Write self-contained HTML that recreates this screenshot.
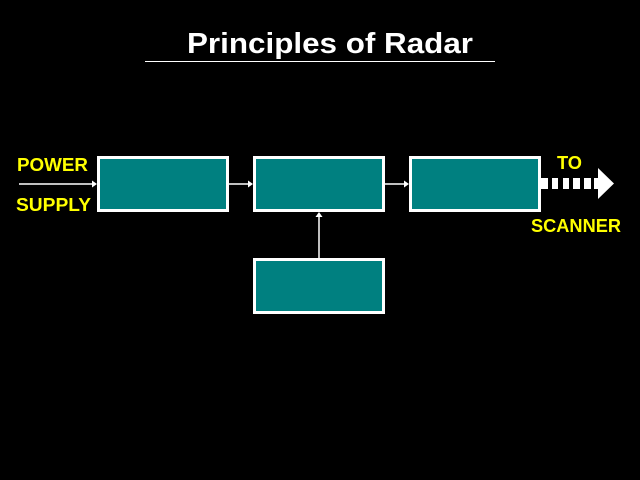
<!DOCTYPE html>
<html>
<head>
<meta charset="utf-8">
<style>
html,body{margin:0;padding:0;background:#000;}
svg{display:block;}
text{font-family:"Liberation Sans",Arial,sans-serif;font-weight:bold;}
</style>
</head>
<body>
<svg width="640" height="480" viewBox="0 0 640 480" xmlns="http://www.w3.org/2000/svg">
<rect x="0" y="0" width="640" height="480" fill="#000"/>
<text x="330" y="53" fill="#fff" font-size="29" text-anchor="middle" textLength="286" lengthAdjust="spacingAndGlyphs">Principles of Radar</text>
<line x1="145" y1="61.5" x2="495" y2="61.5" stroke="#fff" stroke-width="1"/>

<rect x="98.5" y="157.5" width="129" height="53" fill="#008080" stroke="#fff" stroke-width="3"/>
<rect x="254.5" y="157.5" width="129" height="53" fill="#008080" stroke="#fff" stroke-width="3"/>
<rect x="410.5" y="157.5" width="129" height="53" fill="#008080" stroke="#fff" stroke-width="3"/>
<rect x="254.5" y="259.5" width="129" height="53" fill="#008080" stroke="#fff" stroke-width="3"/>

<g stroke="#fff" stroke-width="1.5">
<line x1="19" y1="184" x2="94" y2="184"/>
<line x1="229" y1="184" x2="250" y2="184"/>
<line x1="385" y1="184" x2="406" y2="184"/>
<line x1="319" y1="258" x2="319" y2="215"/>
</g>
<g fill="#fff">
<polygon points="97,184 92,180.5 92,187.5"/>
<polygon points="253,184 248,180.5 248,187.5"/>
<polygon points="409,184 404,180.5 404,187.5"/>
<polygon points="319,212 315.5,217 322.5,217"/>

<rect x="541" y="178" width="7" height="11"/>
<rect x="552" y="178" width="6" height="11"/>
<rect x="563" y="178" width="6" height="11"/>
<rect x="573" y="178" width="7" height="11"/>
<rect x="584" y="178" width="7" height="11"/>
<polygon points="594,178 598,178 598,168 614,183.5 598,199 598,189 594,189"/>
</g>

<text x="17" y="171" fill="#ffff00" font-size="18" textLength="71" lengthAdjust="spacingAndGlyphs">POWER</text>
<text x="16" y="211" fill="#ffff00" font-size="18" textLength="75" lengthAdjust="spacingAndGlyphs">SUPPLY</text>
<text x="557" y="169" fill="#ffff00" font-size="18" textLength="25" lengthAdjust="spacingAndGlyphs">TO</text>
<text x="531" y="232" fill="#ffff00" font-size="18" textLength="90" lengthAdjust="spacingAndGlyphs">SCANNER</text>
</svg>
</body>
</html>
